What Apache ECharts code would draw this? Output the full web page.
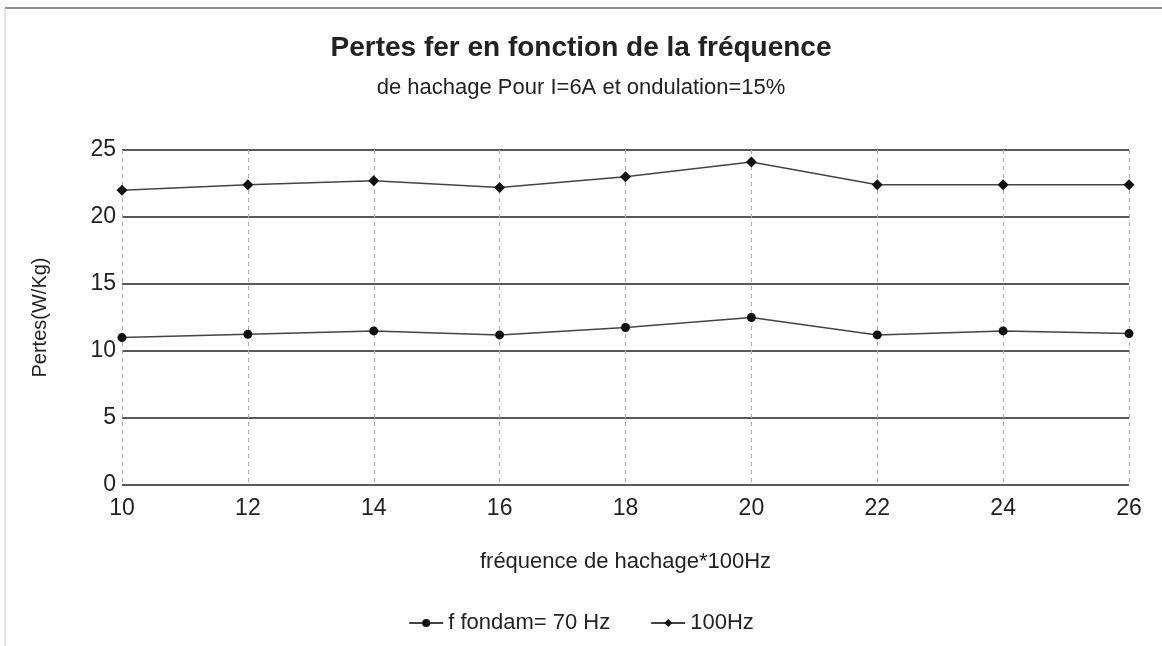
<!DOCTYPE html>
<html><head><meta charset="utf-8">
<script src="https://cdn.jsdelivr.net/npm/echarts@6/dist/echarts.min.js"></script>
<style>html,body{margin:0;padding:0;background:#fff}#c{width:1162px;height:646px}</style>
</head><body><div id="c"></div>
<script>
const freqs = [10, 12, 14, 16, 18, 20, 22, 24, 26];
const s70 = [11.0, 11.25, 11.5, 11.2, 11.75, 12.5, 11.2, 11.5, 11.3];
const s100 = [22.0, 22.4, 22.7, 22.2, 23.0, 24.1, 22.4, 22.4, 22.4];
const seriesNames = ['f fondam= 70 Hz', '100Hz'];
const xTicks = [10, 12, 14, 16, 18, 20, 22, 24, 26];
const yTicks = [0, 5, 10, 15, 20, 25];

const font = '"Liberation Sans", Arial, sans-serif';
const chart = echarts.init(document.getElementById('c'));
chart.setOption({
  animation: false,
  backgroundColor: '#fff',
  title: {
    text: 'Pertes fer en fonction de la fréquence',
    subtext: 'de hachage Pour I=6A et ondulation=15%',
    left: 'center', top: 29, itemGap: 15,
    textStyle: {fontFamily: font, fontSize: 28, fontWeight: 'bold', color: '#222'},
    subtextStyle: {fontFamily: font, fontSize: 22, color: '#222'}
  },
  graphic: [
    {type: 'line', shape: {x1: 5, y1: 8, x2: 1162, y2: 8}, style: {stroke: '#666', lineWidth: 1.5}},
    {type: 'line', shape: {x1: 5, y1: 8, x2: 5, y2: 646}, style: {stroke: '#ccc', lineWidth: 1}}
  ],
  grid: {left: 122, right: 33, top: 150, bottom: 161},
  legend: {
    bottom: 7, left: 'center', itemGap: 40, itemWidth: 34, itemHeight: 10,
    textStyle: {fontFamily: font, fontSize: 22, color: '#222'},
    data: seriesNames
  },
  xAxis: {
    type: 'value', min: 10, max: 26, interval: 2,
    name: 'fréquence de hachage*100Hz', nameLocation: 'middle', nameGap: 66,
    nameTextStyle: {fontFamily: font, fontSize: 22, color: '#222'},
    axisLine: {show: false}, axisTick: {show: false},
    axisLabel: {fontFamily: font, fontSize: 23, color: '#222', margin: 12,
      formatter: v => xTicks.includes(v) ? String(v) : ''},
    splitLine: {show: true, lineStyle: {color: '#aaa', type: [4, 4], width: 1}}
  },
  yAxis: {
    type: 'value', min: 0, max: 25, interval: 5,
    name: 'Pertes(W/Kg)', nameLocation: 'middle', nameGap: 72,
    nameTextStyle: {fontFamily: font, fontSize: 20, color: '#222'},
    axisLine: {show: false}, axisTick: {show: false},
    axisLabel: {fontFamily: font, fontSize: 23, color: '#222', margin: 6,
      formatter: v => yTicks.includes(v) ? String(v) : ''},
    splitLine: {show: true, lineStyle: {color: '#222', width: 1.5}}
  },
  series: [
    {name: seriesNames[0], type: 'line', data: freqs.map((f, i) => [f, s70[i]]),
     symbol: 'circle', symbolSize: 9, lineStyle: {color: '#444', width: 1.5},
     itemStyle: {color: '#111'}},
    {name: seriesNames[1], type: 'line', data: freqs.map((f, i) => [f, s100[i]]),
     symbol: 'diamond', symbolSize: 11, lineStyle: {color: '#444', width: 1.5},
     itemStyle: {color: '#111'}}
  ]
});
</script></body></html>
